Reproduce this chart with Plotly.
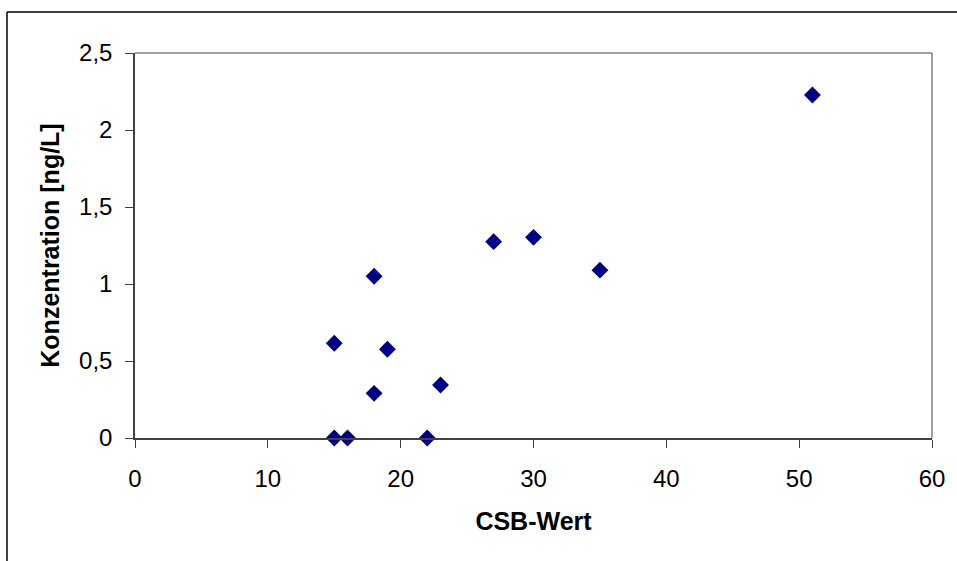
import plotly.graph_objects as go

csb = [15, 16, 18, 15, 19, 18, 23, 22, 27, 30, 35, 51]
konz = [0.0, 0.0, 1.05, 0.615, 0.576, 0.29, 0.344, 0.0, 1.275, 1.303, 1.09, 2.227]

x_ticks = [0, 10, 20, 30, 40, 50, 60]
y_ticks = [0, 0.5, 1, 1.5, 2, 2.5]

FONT = "Liberation Sans, Arial, sans-serif"
L, R, T, B = 135, 25, 53, 123
W, H = 957, 561
pw, ph = W - L - R, H - T - B

fig = go.Figure()
fig.add_trace(go.Scatter(
    x=csb, y=konz, mode="markers",
    marker=dict(symbol="diamond", size=13, color="#000080",
                line=dict(width=0)),
    cliponaxis=False, showlegend=False,
))

def px(xp):
    return (xp - L) / pw

def py(yp):
    return (H - B - yp) / ph

shapes = [
    # outer chart frame
    dict(type="line", xref="paper", yref="paper", x0=px(7), x1=px(7), y0=py(12), y1=py(600),
         line=dict(color="#000000", width=1.5)),
    dict(type="line", xref="paper", yref="paper", x0=px(7), x1=px(1000), y0=py(12), y1=py(12),
         line=dict(color="#000000", width=1.5)),
    # plot area top and right (gray)
    dict(type="line", xref="paper", yref="paper", x0=0, x1=1, y0=1, y1=1,
         line=dict(color="#808080", width=1.5)),
    dict(type="line", xref="paper", yref="paper", x0=1, x1=1, y0=0, y1=1,
         line=dict(color="#808080", width=1.5)),
]

fig.update_layout(
    width=W, height=H,
    margin=dict(l=L, r=R, t=T, b=B, pad=0),
    paper_bgcolor="white", plot_bgcolor="white",
    separators=", ",
    font=dict(family=FONT, size=24, color="#000000"),
    shapes=shapes,
    xaxis=dict(
        range=[0, 60], tickvals=x_ticks, ticktext=[str(v) for v in x_ticks],
        showgrid=False, zeroline=False,
        showline=True, linecolor="#404040", linewidth=1.5,
        ticks="outside", ticklen=8, tickcolor="#404040", tickwidth=1,
        ticklabelstandoff=10,
        tickfont=dict(size=24, family=FONT),
        title=dict(text="<b>CSB-Wert</b>", font=dict(size=25, family=FONT), standoff=22),
    ),
    yaxis=dict(
        range=[0, 2.5], tickvals=y_ticks,
        ticktext=[("%g" % v).replace(".", ",") for v in y_ticks],
        showgrid=False, zeroline=False,
        showline=True, linecolor="#404040", linewidth=1.5,
        ticks="outside", ticklen=8, tickcolor="#404040", tickwidth=1,
        ticklabelstandoff=8,
        tickfont=dict(size=24, family=FONT),
        title=dict(text="<b>Konzentration [ng/L]</b>", font=dict(size=25, family=FONT), standoff=12),
    ),
)

fig.write_html("out.html",
               config={"displayModeBar": False},
               post_script="document.body.style.margin='0';document.body.style.padding='0';")
